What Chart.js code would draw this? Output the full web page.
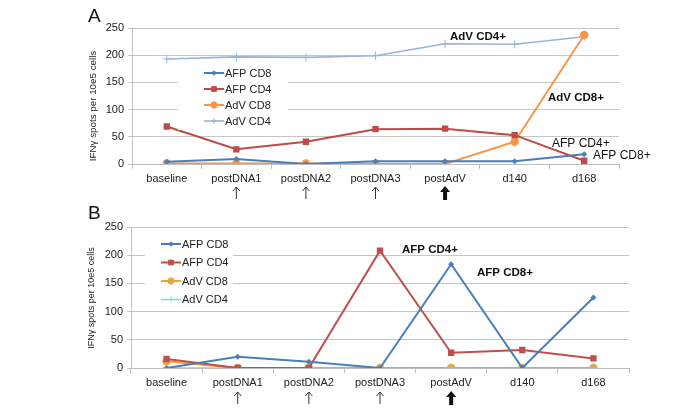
<!DOCTYPE html>
<html>
<head>
<meta charset="utf-8">
<script src="https://cdn.jsdelivr.net/npm/chart.js@4/dist/chart.umd.min.js"></script>
<style>
    html, body { margin: 0; padding: 0; background: #fff; }
    body { width: 690px; height: 415px; position: relative; overflow: hidden; }
    .panel { position: absolute; left: 0; width: 690px; }
    #panel-a { top: 0; height: 205px; }
    #panel-b { top: 205px; height: 210px; }
</style>
</head>
<body>
<div class="panel" id="panel-a"><canvas id="chart-a"></canvas></div>
<div class="panel" id="panel-b"><canvas id="chart-b"></canvas></div>
<script>
const categories = ['baseline', 'postDNA1', 'postDNA2', 'postDNA3', 'postAdV', 'd140', 'd168'];
const arrowKinds = ['', 'thin', 'thin', 'thin', 'thick', '', ''];
const seriesNames = ['AFP CD8', 'AFP CD4', 'AdV CD8', 'AdV CD4'];
const yTicks = [0, 50, 100, 150, 200, 250];
const yTitle = 'IFNγ spots per 10e5 cells';

// panel A
const aAfpCd8 = [4, 9, 0, 5, 5, 5, 18];
const aAfpCd4 = [69, 27, 41, 64, 65, 53, 6];
const aAdvCd8 = [1, 1, 1, 0, 0, 41, 237];
const aAdvCd4 = [193, 197, 196, 199, 221, 220, 234];

// panel B
const bAfpCd8 = [0, 20, 11, 0, 184, 0, 125];
const bAfpCd4 = [16, 0, 0, 208, 27, 32, 17];
const bAdvCd8 = [12, 0, 0, 0, 0, 0, 0];
const bAdvCd4 = [0, 0, 0, 0, 0, 0, 0];

const FONT = '"Liberation Sans", Arial, Helvetica, sans-serif';

function makeSets(values, colors, markerColors) {
    const styles = [
        { pointStyle: 'rectRot', radius: 3, width: 2 },
        { pointStyle: 'rect', radius: 4.5, width: 2 },
        { pointStyle: 'circle', radius: 4.2, width: 2 },
        { pointStyle: 'cross', radius: 4, width: 1.6 }
    ];
    return values.map((data, i) => ({
        label: seriesNames[i],
        data,
        borderColor: colors[i],
        backgroundColor: markerColors[i],
        pointBackgroundColor: markerColors[i],
        pointBorderColor: markerColors[i],
        pointBorderWidth: i === 3 ? 1 : 0,
        borderWidth: styles[i].width,
        pointStyle: styles[i].pointStyle,
        pointRadius: styles[i].radius,
        tension: 0
    }));
}

// legend, labels, arrows and panel letter drawn on the canvas
const decor = {
    id: 'decor',
    afterDraw(chart, args, o) {
        const ctx = chart.ctx;
        const x = chart.scales.x;
        ctx.save();

        // panel letter
        ctx.fillStyle = '#111';
        ctx.font = '19px ' + FONT;
        ctx.textBaseline = 'middle';
        ctx.textAlign = 'left';
        ctx.fillText(o.letter, o.letterPos[0], o.letterPos[1]);

        // y title
        ctx.save();
        ctx.translate(o.title[0], o.title[1]);
        ctx.rotate(-Math.PI / 2);
        ctx.textAlign = 'center';
        ctx.font = o.title[2] + 'px ' + FONT;
        ctx.fillStyle = '#222';
        ctx.fillText(yTitle, 0, 0);
        ctx.restore();

        // legend
        const lg = o.legend;
        ctx.fillStyle = '#fff';
        ctx.fillRect(lg.box[0], lg.box[1], lg.box[2], lg.box[3]);
        chart.data.datasets.forEach((ds, i) => {
            const y = lg.y + i * lg.step;
            ctx.strokeStyle = ds.borderColor;
            ctx.lineWidth = ds.borderWidth;
            ctx.beginPath();
            ctx.moveTo(lg.x, y);
            ctx.lineTo(lg.x + lg.len, y);
            ctx.stroke();
            ctx.fillStyle = ds.pointBackgroundColor;
            ctx.strokeStyle = ds.pointBorderColor;
            ctx.lineWidth = 1;
            Chart.helpers.drawPoint(ctx, {
                pointStyle: ds.pointStyle, radius: ds.pointRadius * 0.75, borderWidth: 1, rotation: 0
            }, lg.x + lg.len / 2, y);
            ctx.fillStyle = '#222';
            ctx.font = '11px ' + FONT;
            ctx.textAlign = 'left';
            ctx.fillText(ds.label, lg.x + lg.len + 1, y + 0.5);
        });

        // text labels
        o.notes.forEach(n => {
            ctx.font = (n.bold ? 'bold ' : '') + n.size + 'px ' + FONT;
            ctx.fillStyle = '#111';
            ctx.textAlign = 'left';
            ctx.fillText(n.text, n.x, n.y);
        });

        // arrows under the time points
        arrowKinds.forEach((kind, i) => {
            if (!kind) return;
            const cx = x.getPixelForValue(i);
            const top = o.arrowTop, bot = o.arrowTop + 12;
            ctx.fillStyle = '#111';
            ctx.strokeStyle = '#333';
            if (kind === 'thin') {
                ctx.lineWidth = 1;
                ctx.beginPath();
                ctx.moveTo(cx, bot);
                ctx.lineTo(cx, top);
                ctx.moveTo(cx - 3.5, top + 4);
                ctx.lineTo(cx, top);
                ctx.lineTo(cx + 3.5, top + 4);
                ctx.stroke();
            } else {
                ctx.beginPath();
                ctx.moveTo(cx, top - 1);
                ctx.lineTo(cx + 5, top + 5);
                ctx.lineTo(cx + 2, top + 5);
                ctx.lineTo(cx + 2, bot + 1);
                ctx.lineTo(cx - 2, bot + 1);
                ctx.lineTo(cx - 2, top + 5);
                ctx.lineTo(cx - 5, top + 5);
                ctx.closePath();
                ctx.fill();
            }
        });
        ctx.restore();
    }
};

function makeChart(id, datasets, box, decorOpts) {
    const [left, top, right, bottom, height] = box;
    return new Chart(document.getElementById(id), {
        type: 'line',
        data: { labels: categories, datasets },
        options: {
            responsive: true,
            maintainAspectRatio: false,
            animation: false,
            layout: { padding: { left: 0, top, right: 690 - right, bottom: 0 } },
            plugins: { legend: { display: false }, tooltip: { enabled: false }, decor: decorOpts },
            scales: {
                x: {
                    offset: true,
                    grid: { display: true, drawOnChartArea: false, offset: true, tickLength: 5, color: '#bdbdbd' },
                    border: { color: '#bdbdbd' },
                    ticks: { color: '#222', font: { family: FONT, size: 11 }, padding: 3, maxRotation: 0, autoSkip: false },
                    afterFit(s) { s.height = height - bottom; }
                },
                y: {
                    min: 0, max: 250,
                    afterBuildTicks(s) { s.ticks = yTicks.map(v => ({ value: v })); },
                    grid: { color: '#c6c6c6', tickLength: 4 },
                    border: { color: '#bdbdbd' },
                    ticks: { color: '#222', font: { family: FONT, size: 11 }, padding: 4 },
                    afterFit(s) { s.width = left; }
                }
            }
        },
        plugins: [decor]
    });
}

makeChart('chart-a',
    makeSets([aAfpCd8, aAfpCd4, aAdvCd8, aAdvCd4],
        ['#4a7ebb', '#be4b48', '#f79646', '#98b4dc'],
        ['#4a7ebb', '#be4b48', '#f79646', '#98b4dc']),
    [132, 28, 619, 164, 205],
    {
        letter: 'A', letterPos: [88, 17], title: [93, 106, 9.8], arrowTop: 187,
        legend: { box: [178, 62, 110, 68], x: 204, len: 20, y: 73, step: 16 },
        notes: [
            { text: 'AdV CD4+', x: 450, y: 37, bold: true, size: 11.5 },
            { text: 'AdV CD8+', x: 548, y: 98, bold: true, size: 11.5 },
            { text: 'AFP CD4+', x: 552, y: 144, bold: false, size: 12 },
            { text: 'AFP CD8+', x: 593, y: 156, bold: false, size: 12 }
        ]
    });

makeChart('chart-b',
    makeSets([bAfpCd8, bAfpCd4, bAdvCd8, bAdvCd4],
        ['#4a7ebb', '#c0504d', '#f5a030', '#8ecdf2'],
        ['#4a7ebb', '#c0504d', '#e3ab48', '#8ecdf2']),
    [131, 22, 629, 163, 210],
    {
        letter: 'B', letterPos: [88, 9], title: [92, 93, 9], arrowTop: 187,
        legend: { box: [145, 28, 88, 75], x: 161, len: 20, y: 39, step: 18.5 },
        notes: [
            { text: 'AFP CD4+', x: 402, y: 45, bold: true, size: 11.5 },
            { text: 'AFP CD8+', x: 477, y: 68, bold: true, size: 11.5 }
        ]
    });
</script>
</body>
</html>
